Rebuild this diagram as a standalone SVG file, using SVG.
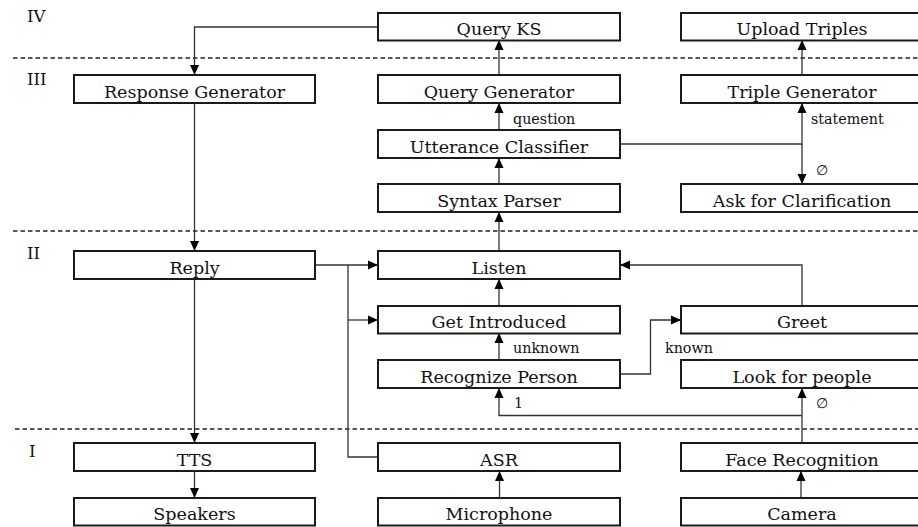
<svg xmlns="http://www.w3.org/2000/svg" width="918" height="527" viewBox="0 0 918 527">
<defs>
<style>
.box{fill:#fff;stroke:#1a1a1a;stroke-width:2}
.t{font-family:"DejaVu Serif","Liberation Serif",serif;font-size:17.5px;fill:#111;text-anchor:middle}
.s{font-family:"DejaVu Serif","Liberation Serif",serif;font-size:14.3px;fill:#111}
.lay{font-family:"DejaVu Serif","Liberation Serif",serif;font-size:16.5px;fill:#111}
.c{fill:none;stroke:#333;stroke-width:1.3}
.d{stroke:#222;stroke-width:1.3;stroke-dasharray:4.5,3}
</style>
<marker id="ah" viewBox="0 0 10 10" refX="10" refY="5" markerWidth="10" markerHeight="10" markerUnits="userSpaceOnUse" orient="auto">
<path d="M0,0.5 L10,5 L0,9.5 z" fill="#000"/>
</marker>
</defs>
<rect width="918" height="527" fill="#fff"/>

<g id="layers">
<line class="d" x1="13" y1="58" x2="918" y2="58"/>
<line class="d" x1="13" y1="231" x2="918" y2="231"/>
<line class="d" x1="15" y1="429" x2="918" y2="429"/>
<text class="lay" x="27" y="22">IV</text>
<text class="lay" x="27" y="85">III</text>
<text class="lay" x="27" y="259">II</text>
<text class="lay" x="29" y="457">I</text>
</g>

<g id="connectors">
<polyline class="c" points="378,27 194.5,27 194.5,75" marker-end="url(#ah)"/>
<line class="c" x1="499" y1="75" x2="499" y2="40" marker-end="url(#ah)"/>
<line class="c" x1="802" y1="75" x2="802" y2="40" marker-end="url(#ah)"/>
<line class="c" x1="499" y1="130" x2="499" y2="103" marker-end="url(#ah)"/>
<polyline class="c" points="620,144 802,144 802,103" marker-end="url(#ah)"/>
<line class="c" x1="802" y1="144" x2="802" y2="184" marker-end="url(#ah)"/>
<line class="c" x1="499" y1="184" x2="499" y2="158" marker-end="url(#ah)"/>
<line class="c" x1="499" y1="251" x2="499" y2="212" marker-end="url(#ah)"/>
<line class="c" x1="194.5" y1="103" x2="194.5" y2="251" marker-end="url(#ah)"/>
<line class="c" x1="315" y1="265" x2="378" y2="265" marker-end="url(#ah)"/>
<polyline class="c" points="378,457 348,457 348,265"/>
<line class="c" x1="348" y1="320" x2="378" y2="320" marker-end="url(#ah)"/>
<line class="c" x1="194.5" y1="279" x2="194.5" y2="443" marker-end="url(#ah)"/>
<line class="c" x1="194.5" y1="471" x2="194.5" y2="498" marker-end="url(#ah)"/>
<line class="c" x1="499" y1="306" x2="499" y2="279" marker-end="url(#ah)"/>
<line class="c" x1="499" y1="360" x2="499" y2="333" marker-end="url(#ah)"/>
<polyline class="c" points="620,374 650.5,374 650.5,320 681,320" marker-end="url(#ah)"/>
<polyline class="c" points="802,306 802,265 620,265" marker-end="url(#ah)"/>
<line class="c" x1="802" y1="443" x2="802" y2="388" marker-end="url(#ah)"/>
<polyline class="c" points="802,415.5 499,415.5 499,388" marker-end="url(#ah)"/>
<line class="c" x1="499.5" y1="498" x2="499.5" y2="471" marker-end="url(#ah)"/>
<line class="c" x1="801" y1="498" x2="801" y2="471" marker-end="url(#ah)"/>
<text class="s" x="513" y="123.5">question</text>
<text class="s" x="811" y="123.5">statement</text>
<text class="s" x="816" y="175">∅</text>
<text class="s" x="513" y="353">unknown</text>
<text class="s" x="665" y="353">known</text>
<text class="s" x="514" y="408">1</text>
<text class="s" x="816" y="408">∅</text>
</g>

<g id="query-ks"><rect class="box" x="378" y="13" width="242" height="27.5"/><text class="t" x="499" y="35">Query KS</text></g>
<g id="upload-triples"><rect class="box" x="681" y="13" width="242" height="27.5"/><text class="t" x="802" y="35">Upload Triples</text></g>
<g id="response-generator"><rect class="box" x="74" y="75" width="241" height="28"/><text class="t" x="194.5" y="97.8">Response Generator</text></g>
<g id="query-generator"><rect class="box" x="378" y="75" width="242" height="28"/><text class="t" x="499" y="97.8">Query Generator</text></g>
<g id="triple-generator"><rect class="box" x="681" y="75" width="242" height="28"/><text class="t" x="802" y="97.8">Triple Generator</text></g>
<g id="utterance-classifier"><rect class="box" x="378" y="130" width="242" height="28"/><text class="t" x="499" y="152.8">Utterance Classifier</text></g>
<g id="syntax-parser"><rect class="box" x="378" y="184" width="242" height="28"/><text class="t" x="499" y="206.8">Syntax Parser</text></g>
<g id="ask-clarification"><rect class="box" x="681" y="184" width="242" height="28"/><text class="t" x="802" y="206.8">Ask for Clarification</text></g>
<g id="reply"><rect class="box" x="74" y="251" width="241" height="28"/><text class="t" x="194.5" y="273.8">Reply</text></g>
<g id="listen"><rect class="box" x="378" y="251" width="242" height="28"/><text class="t" x="499" y="273.8">Listen</text></g>
<g id="get-introduced"><rect class="box" x="378" y="306" width="242" height="27.5"/><text class="t" x="499" y="328.3">Get Introduced</text></g>
<g id="greet"><rect class="box" x="681" y="306" width="242" height="27.5"/><text class="t" x="802" y="328.3">Greet</text></g>
<g id="recognize-person"><rect class="box" x="378" y="360" width="242" height="28"/><text class="t" x="499" y="382.8">Recognize Person</text></g>
<g id="look-for-people"><rect class="box" x="681" y="360" width="242" height="28"/><text class="t" x="802" y="382.8">Look for people</text></g>
<g id="tts"><rect class="box" x="74" y="443" width="241" height="28"/><text class="t" x="194.5" y="465.8">TTS</text></g>
<g id="asr"><rect class="box" x="378" y="443" width="242" height="28"/><text class="t" x="499" y="465.8">ASR</text></g>
<g id="face-recognition"><rect class="box" x="681" y="443" width="242" height="28"/><text class="t" x="802" y="465.8">Face Recognition</text></g>
<g id="speakers"><rect class="box" x="74" y="498" width="241" height="27.5"/><text class="t" x="194.5" y="520.3">Speakers</text></g>
<g id="microphone"><rect class="box" x="378" y="498" width="242" height="27.5"/><text class="t" x="499" y="520.3">Microphone</text></g>
<g id="camera"><rect class="box" x="681" y="498" width="242" height="27.5"/><text class="t" x="802" y="520.3">Camera</text></g>
</svg>
